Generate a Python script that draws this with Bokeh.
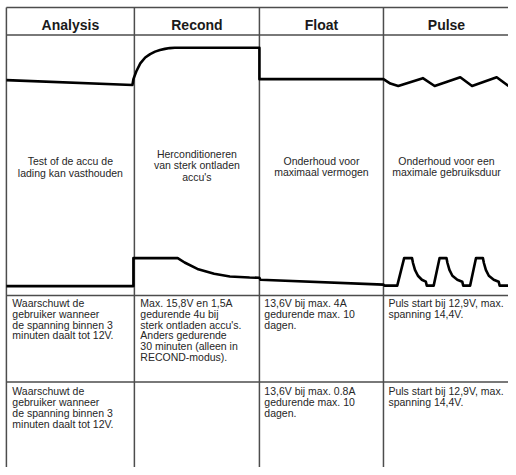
from bokeh.plotting import figure
from bokeh.models import Range1d
from bokeh.core.properties import value
from bokeh.embed import file_html
from bokeh.resources import INLINE

# ---------------- data ----------------
phases = ["Analysis", "Recond", "Float", "Pulse"]
descriptions = [
    "Test of de accu de\nlading kan vasthouden",
    "Herconditioneren\nvan sterk ontladen\naccu's",
    "Onderhoud voor\nmaximaal vermogen",
    "Onderhoud voor een\nmaximale gebruiksduur",
]
specs_row1 = [
    "Waarschuwt de\ngebruiker wanneer\nde spanning binnen 3\nminuten daalt tot 12V.",
    "Max. 15,8V en 1,5A\ngedurende 4u bij\nsterk ontladen accu's.\nAnders gedurende\n30 minuten (alleen in\nRECOND-modus).",
    "13,6V bij max. 4A\ngedurende max. 10\ndagen.",
    "Puls start bij 12,9V, max.\nspanning 14,4V.",
]
specs_row2 = [
    "Waarschuwt de\ngebruiker wanneer\nde spanning binnen 3\nminuten daalt tot 12V.",
    "",
    "13,6V bij max. 0.8A\ngedurende max. 10\ndagen.",
    "Puls start bij 12,9V, max.\nspanning 14,4V.",
]

# voltage profile (time axis, level axis in diagram units)
voltage_t = [6, 134, 134, 135, 138, 142, 147, 152, 157, 162, 167, 172, 177, 263, 263,
             389, 396, 404, 429, 441, 467, 479, 504, 516]
voltage_v = [81, 86, 86, 80, 72, 64, 58, 54.5, 52, 50.3, 49.2, 48.4, 48, 48, 80,
             80, 84.5, 87, 79, 87, 78, 87, 78, 87]

# current profile
current_t = [6, 135, 135, 180, 187, 200, 217, 233, 253, 263, 264, 389, 390,
             403, 410, 418, 419, 421, 424, 428, 432, 433,
             440, 446, 453, 454, 456, 459, 464, 469, 470,
             477, 483, 490, 491, 493, 496, 501, 506, 507, 516]
current_a = [290.5, 290.5, 262, 262, 266.5, 273, 278, 280.7, 281.8, 282, 284, 289, 290,
             290, 262, 262, 267, 274, 280, 284, 286, 290,
             290, 262, 262, 267, 274, 280, 284, 286, 290,
             290, 262, 262, 267, 274, 280, 284, 286, 290, 290]

# ---------------- layout ----------------
col_edges = [6, 136, 263, 389]
col_centers = [71, 199.5, 326, 453]
text_left = [12, 142, 268, 394]
row_lines = [7, 35, 300, 388]

FONT = value("Liberation Sans")
GRID = "#4d4d4d"
TXT = "#262626"

p = figure(width=508, height=467, x_range=Range1d(0, 516), y_range=Range1d(475, 0),
           output_backend="svg", toolbar_location=None, min_border=0)
p.axis.visible = False
p.grid.visible = False
p.outline_line_color = None
p.background_fill_color = "white"

# table grid
p.segment(x0=[6] * len(row_lines), x1=[516] * len(row_lines), y0=row_lines, y1=row_lines,
          line_color=GRID, line_width=1.5)
p.segment(x0=col_edges, x1=col_edges, y0=[7] * 4, y1=[475] * 4,
          line_color=GRID, line_width=1.5)

# profiles
p.line(voltage_t, voltage_v, line_color="black", line_width=2.6, line_join="round")
p.line(current_t, current_a, line_color="black", line_width=2.6, line_join="round")

# headers
p.text(x=col_centers, y=[25] * 4, text=phases, text_font=FONT, text_font_style="bold",
       text_font_size="14px", text_align="center", text_baseline="alphabetic", text_color="#1a1a1a")

# descriptions
p.text(x=col_centers, y=[169.3, 167.6, 168.6, 168.6], text=descriptions, text_font=FONT,
       text_font_size="10.5px", text_align="center", text_baseline="middle",
       text_line_height=0.95, text_color=TXT)

# specs
p.text(x=text_left, y=[301.5] * 4, text=specs_row1, text_font=FONT,
       text_font_size="10.5px", text_align="left", text_baseline="top",
       text_line_height=0.9, text_color=TXT)
p.text(x=text_left, y=[391.5] * 4, text=specs_row2, text_font=FONT,
       text_font_size="10.5px", text_align="left", text_baseline="top",
       text_line_height=0.9, text_color=TXT)

open("out.html", "w").write(file_html(p, INLINE))
